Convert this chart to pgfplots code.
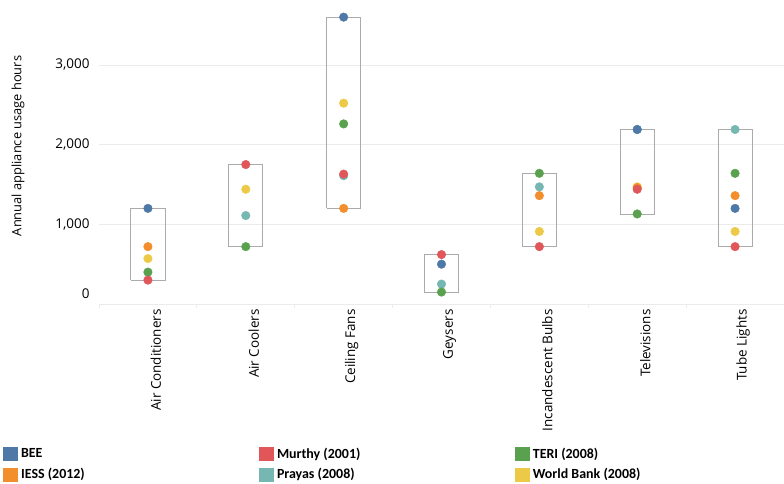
\documentclass[border=0pt]{standalone}
\usepackage{fontspec}
\setmainfont{Open Sans}
\newfontfamily\legfont{Carlito}
\usepackage{pgfplots}
\pgfplotsset{compat=1.18}

\definecolor{cBEE}{HTML}{4E79A7}
\definecolor{cIESS}{HTML}{F28E2B}
\definecolor{cMurthy}{HTML}{E15759}
\definecolor{cPrayas}{HTML}{76B7B2}
\definecolor{cTERI}{HTML}{59A14F}
\definecolor{cWB}{HTML}{EDC948}
\definecolor{gridc}{HTML}{EBEBEB}
\definecolor{boxc}{HTML}{ABABAB}

\pgfplotsset{
  dot/.style={only marks, mark=*, mark size=4.3bp, color=#1, forget plot},
  rbox/.style={draw=boxc, line width=0.9bp, forget plot, mark=none},
}

\begin{document}
\begin{tikzpicture}
\begin{axis}[
    scale only axis,
    width=685bp, height=304bp,
    xmin=-0.5, xmax=6.5,
    ymin=0, ymax=3815,
    axis lines=left,
    axis line style={-},
    x axis line style={draw=gridc, line width=0.8bp},
    y axis line style={draw=none},
    xtick={0,...,6},
    xticklabels={Air Conditioners,Air Coolers,Ceiling Fans,Geysers,Incandescent Bulbs,Televisions,Tube Lights},
    major x tick style={draw=none},
    minor xtick={-0.5,0.5,...,6.5},
    minor x tick style={draw=gridc, line width=0.8bp},
    minor tick length=4bp,
    tick align=outside,
    ytick={1000,2000,3000},
    extra y ticks={0},
    extra y tick style={ymajorgrids=false, yticklabel style={yshift=10bp}},
    ytick style={draw=none},
    ymajorgrids,
    grid style={draw=gridc, line width=0.8bp},
    tick label style={font=\fontsize{13.5}{16}\selectfont},
    xticklabel style={rotate=90, anchor=east, inner sep=0pt, xshift=-1bp, yshift=-8bp},
    yticklabel style={anchor=east, inner sep=0pt, xshift=-5bp},
    /pgf/number format/.cd, 1000 sep={,}, assume math mode=true,
    /pgfplots/.cd,
    ylabel={Annual appliance usage hours},
    every axis y label/.style={at={(axis description cs:-0.1182,0.52)}, rotate=90, anchor=center,
      font=\fontsize{12.9}{15}\selectfont},
    legend columns=3,
    legend style={at={(axis description cs:-0.1401,-0.4655)}, anchor=north west,
      draw=none, fill=none, inner sep=0pt, font=\legfont\bfseries\fontsize{14}{16}\selectfont,
      /tikz/every odd column/.append style={column sep=1.5bp},
      row sep=5bp},
    legend cell align=left,
    legend image code/.code={\fill[#1] (0bp,-6.5bp) rectangle (14bp,6.5bp);},
    clip=false,
]
\coordinate (O) at (rel axis cs:0,0);

% range boxes (min to max of the estimates for each appliance)
\addplot[rbox] coordinates {(-0.175,300) (0.175,300) (0.175,1200) (-0.175,1200) (-0.175,300)};
\addplot[rbox] coordinates {(0.825,720) (1.175,720) (1.175,1750) (0.825,1750) (0.825,720)};
\addplot[rbox] coordinates {(1.825,1200) (2.175,1200) (2.175,3600) (1.825,3600) (1.825,1200)};
\addplot[rbox] coordinates {(2.825,150) (3.175,150) (3.175,620) (2.825,620) (2.825,150)};
\addplot[rbox] coordinates {(3.825,720) (4.175,720) (4.175,1640) (3.825,1640) (3.825,720)};
\addplot[rbox] coordinates {(4.825,1130) (5.175,1130) (5.175,2190) (4.825,2190) (4.825,1130)};
\addplot[rbox] coordinates {(5.825,720) (6.175,720) (6.175,2190) (5.825,2190) (5.825,720)};

% Prayas (2008)
\addplot[dot=cPrayas] coordinates {(1,1110) (2,1610) (3,250) (4,1470) (5,2190) (6,2190)};
% World Bank (2008)
\addplot[dot=cWB] coordinates {(0,570) (1,1440) (2,2520) (4,910) (5,1470) (6,910)};
% IESS (2012)
\addplot[dot=cIESS] coordinates {(0,720) (2,1200) (4,1360) (5,1460) (6,1360)};
% TERI (2008)
\addplot[dot=cTERI] coordinates {(0,400) (1,720) (2,2260) (3,150) (4,1640) (5,1130) (6,1640)};
% BEE
\addplot[dot=cBEE] coordinates {(0,1200) (2,3600) (3,500) (5,2190) (6,1200)};
% Murthy (2001)
\addplot[dot=cMurthy] coordinates {(0,300) (1,1750) (2,1630) (3,620) (4,720) (5,1440) (6,720)};

\addlegendimage{cBEE}\addlegendentry{\makebox[236bp][l]{BEE}}
\addlegendimage{cMurthy}\addlegendentry{\makebox[236bp][l]{Murthy (2001)}}
\addlegendimage{cTERI}\addlegendentry{\makebox[236bp][l]{TERI (2008)}}
\addlegendimage{cIESS}\addlegendentry{\makebox[236bp][l]{IESS (2012)}}
\addlegendimage{cPrayas}\addlegendentry{\makebox[236bp][l]{Prayas (2008)}}
\addlegendimage{cWB}\addlegendentry{\makebox[236bp][l]{World Bank (2008)}}
\end{axis}
\pgfresetboundingbox
\path[use as bounding box] ([xshift=-99bp,yshift=-180bp]O) rectangle ([xshift=685bp,yshift=304bp]O);
\end{tikzpicture}
\end{document}
